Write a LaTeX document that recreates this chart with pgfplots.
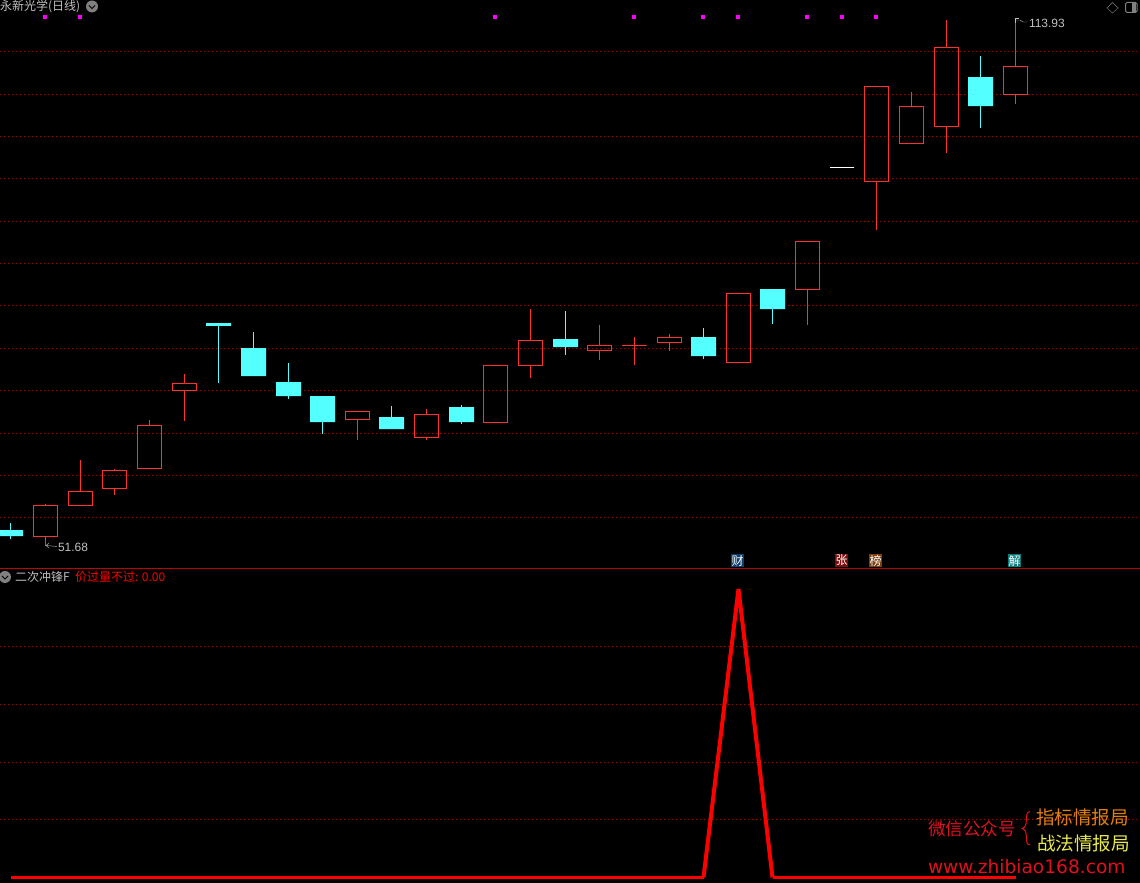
\documentclass[border=0pt]{standalone}
\usepackage{fontspec}
\usepackage{pgfplots}
\usepackage{pgfplotstable}
\pgfplotsset{compat=1.18}
\setmainfont{Liberation Sans}
\newfontfamily\cjk{Noto Sans CJK SC}
\newfontfamily\urlfont{DejaVu Sans}

\definecolor{upred}{RGB}{255,50,50}
\definecolor{downcyan}{RGB}{84,255,255}
\definecolor{gridred}{RGB}{170,0,0}
\definecolor{labelgray}{RGB}{192,192,192}
\definecolor{iconbg}{RGB}{128,128,128}
\definecolor{signalpink}{RGB}{255,0,255}
\definecolor{markred}{RGB}{224,16,32}
\definecolor{markorange}{RGB}{224,128,16}
\definecolor{markyellow}{RGB}{232,232,80}

% top panel: x position, body top, body bottom, high, low
\pgfplotstableread{
x top bottom high low
45.5 56.50 52.78 56.73 51.68
80.5 58.15 56.45 61.86 56.45
114.5 60.64 58.46 60.76 57.72
149.5 65.96 60.83 66.59 60.83
184.5 70.94 70.11 72.04 66.51
357.5 67.62 66.63 67.62 64.23
426.5 67.27 64.50 67.89 64.23
495.5 73.07 66.27 73.07 66.27
530.5 76.02 73.02 79.73 71.56
599.5 75.43 74.79 77.84 73.69
634.5 75.43 75.43 76.42 73.10
669.5 76.38 75.74 76.77 74.76
738.5 81.59 73.37 81.59 73.37
807.5 87.74 82.01 87.74 77.84
876.5 106.09 94.79 106.09 89.08
911.5 103.72 99.29 105.38 99.29
946.5 110.70 101.30 113.93 98.23
1015.5 108.45 105.09 113.93 103.99
}\upcandles
\pgfplotstableread{
x top bottom high low
10.5 53.57 52.86 54.40 52.51
218.5 78.07 77.75 78.07 71.01
253.5 75.11 71.80 77.01 71.80
288.5 71.09 69.43 73.34 69.11
322.5 69.43 66.36 69.43 64.94
391.5 66.95 65.53 68.25 65.53
461.5 68.13 66.36 68.37 66.12
565.5 76.18 75.23 79.49 74.28
703.5 76.42 74.17 77.48 73.81
772.5 82.10 79.73 82.10 77.95
980.5 107.19 103.75 109.67 101.15
}\downcandles
\pgfplotstableread{
x top bottom high low
842 96.50 96.50 96.50 96.50
}\flatcandles
\pgfplotstableread{
x y
44.5 114.37
79.5 114.37
494.5 114.37
633.5 114.37
702.5 114.37
737.5 114.37
806.5 114.37
841.5 114.37
875.5 114.37
}\signals

% one candle per table row: wicks first, then the body
\newcommand{\drawcandles}[3]{%
  \pgfplotstablegetrowsof{#1}%
  \pgfmathtruncatemacro\lastrow{\pgfplotsretval-1}%
  \pgfplotsforeachungrouped \rw in {0,...,\lastrow}{%
    \pgfplotstablegetelem{\rw}{x}\of{#1}\let\cx\pgfplotsretval
    \pgfplotstablegetelem{\rw}{top}\of{#1}\let\ct\pgfplotsretval
    \pgfplotstablegetelem{\rw}{bottom}\of{#1}\let\cb\pgfplotsretval
    \pgfplotstablegetelem{\rw}{high}\of{#1}\let\ch\pgfplotsretval
    \pgfplotstablegetelem{\rw}{low}\of{#1}\let\cl\pgfplotsretval
    \pgfmathsetmacro\xl{\cx-#3}\pgfmathsetmacro\xr{\cx+#3}%
    \edef\cmd{%
      \noexpand\addplot[#2wick] coordinates {(\cx,\ch) (\cx,\ct)};
      \noexpand\addplot[#2wick] coordinates {(\cx,\cb) (\cx,\cl)};
      \noexpand\addplot[#2body] coordinates {(\xl,\ct) (\xr,\ct) (\xr,\cb) (\xl,\cb) (\xl,\ct)};
    }\cmd
  }%
}

\pgfplotsset{
  panel/.style={scale only axis, width=1140pt, anchor=south west,
    xmin=0, xmax=1140, xtick=\empty, yticklabels={},
    axis line style={draw=none}, major tick length=0pt,
    ymajorgrids, grid style={gridred, line width=1pt, dash pattern=on 1pt off 3pt}},
  upwick/.style={upred, line width=1pt},
  upbody/.style={upred, line width=1pt, line cap=rect},
  downwick/.style={downcyan, line width=1pt},
  downbody/.style={draw=none, fill=downcyan},
  flatwick/.style={white, line width=1pt},
  flatbody/.style={white, line width=1pt},
}

\begin{document}
\begin{tikzpicture}[every node/.style={inner sep=0pt, outer sep=0pt, anchor=west}]
\fill[black, use as bounding box] (0,0) rectangle (1140pt,883pt);

\begin{axis}[panel, at={(0pt,314.5pt)}, height=568.5pt, ymin=49.041, ymax=116.324,
  ytick={55.08,60.05,65.02,70.11,75.08,80.17,85.14,90.11,95.20,100.17,105.14,110.23}]
  \drawcandles{\upcandles}{up}{12}
  \drawcandles{\downcandles}{down}{12.5}
  \drawcandles{\flatcandles}{flat}{12}
  \addplot[only marks, mark=square*, mark size=1.5pt, mark options={draw=signalpink, fill=signalpink, line width=0.2pt}] table {\signals};
\end{axis}

\begin{axis}[panel, at={(0pt,0pt)}, height=314.5pt, ymin=-0.01906, ymax=1.07106,
  ytick={0.2010,0.3986,0.5997,0.8007}]
  \addplot[red, line width=3pt] coordinates {
    (10.5,0) (45.5,0) (80.5,0) (114.5,0) (149.5,0) (184.5,0) (218.5,0) (253.5,0) (288.5,0) (322.5,0)
    (357.5,0) (391.5,0) (426.5,0) (461.5,0) (495.5,0) (530.5,0) (565.5,0) (599.5,0) (634.5,0) (669.5,0)
    (703.5,0)};
  \addplot[red, line width=4pt, line join=bevel] coordinates {(703.5,0) (738.5,1) (772.5,0)};
  \addplot[red, line width=3pt] coordinates {
    (772.5,0) (807.5,0) (842.5,0) (876.5,0) (911.5,0) (946.5,0) (980.5,0) (1015.5,0)};
\end{axis}

% screen furniture, in image pixels from the top left
\begin{scope}[x=1pt, y=-1pt, shift={(0pt,883pt)}]
  \draw[red!75!black, line width=1pt] (0,568.5) -- (1140,568.5);

  \node[labelgray] at (0,6.5) {\fontsize{12pt}{14pt}\selectfont\cjk 永新光学(日线)};
  \fill[iconbg] (92,6.5) circle (6);
  \draw[black, line width=1pt] (89,5.5) -- (92,8.5) -- (95,5.5);

  \fill[iconbg] (5,577) circle (6);
  \draw[black, line width=1pt] (2,576) -- (5,579) -- (8,576);
  \node[labelgray] at (15,577) {\fontsize{12pt}{14pt}\selectfont\cjk 二次冲锋F};
  \node[red] at (75,577) {\fontsize{12pt}{14pt}\selectfont\cjk 价过量不过: 0.00};

  \draw[iconbg] (1112.5,2.5) -- (1118,8) -- (1112.5,13) -- (1107,8) -- cycle;
  \draw[iconbg, rounded corners=1.5pt, line width=1pt] (1125.5,2.5) rectangle (1137,12.5);
  \fill[iconbg] (1132,3) rectangle (1135.5,12);

  % price extremes
  \draw[labelgray] (46,545.5) -- (57,546.5);
  \draw[labelgray] (49,543) -- (46,545.5) -- (49,548);
  \node[labelgray] at (58,547) {\fontsize{12pt}{14pt}\selectfont 51.68};
  \draw[labelgray] (1015.5,23) -- (1015.5,18) -- (1019,18);
  \draw[labelgray] (1016,20) -- (1020,20) -- (1023,22) -- (1027,22);
  \node[labelgray] at (1029,23.5) {\fontsize{12pt}{14pt}\selectfont 113.93};

  % event badges
  \foreach \bx/\bc/\bt in {731/{rgb,255:red,15;green,62;blue,110}/财,
      835/{rgb,255:red,125;green,12;blue,12}/张,
      869/{rgb,255:red,125;green,62;blue,12}/榜,
      1008/{rgb,255:red,10;green,125;blue,125}/解}{
    \fill[fill=\bc] (\bx,554) rectangle ++(13,13);
    \node[white, anchor=center] at (\bx+6.5,560.5) {\fontsize{12pt}{14pt}\selectfont\cjk \bt};
  }

  % watermark
  \node[markred] at (928,829) {\fontsize{17.6pt}{20pt}\selectfont\cjk 微信公众号};
  \node[markorange] at (1036,817) {\fontsize{18.6pt}{20pt}\selectfont\cjk 指标情报局};
  \node[markyellow] at (1037,843) {\fontsize{18.6pt}{20pt}\selectfont\cjk 战法情报局};
  \draw[markred, line width=1pt] (1030,811.5) .. controls (1025,811.5) and (1027,820) .. (1026,824)
    .. controls (1025.5,827) and (1024,828) .. (1022,828.5)
    .. controls (1024,829) and (1025.5,830) .. (1026,833)
    .. controls (1027,838) and (1025,845) .. (1030,845);
  \node[markred] at (928,867) {\fontsize{18.6pt}{22pt}\selectfont\urlfont www.zhibiao168.com};
\end{scope}
\end{tikzpicture}
\end{document}
